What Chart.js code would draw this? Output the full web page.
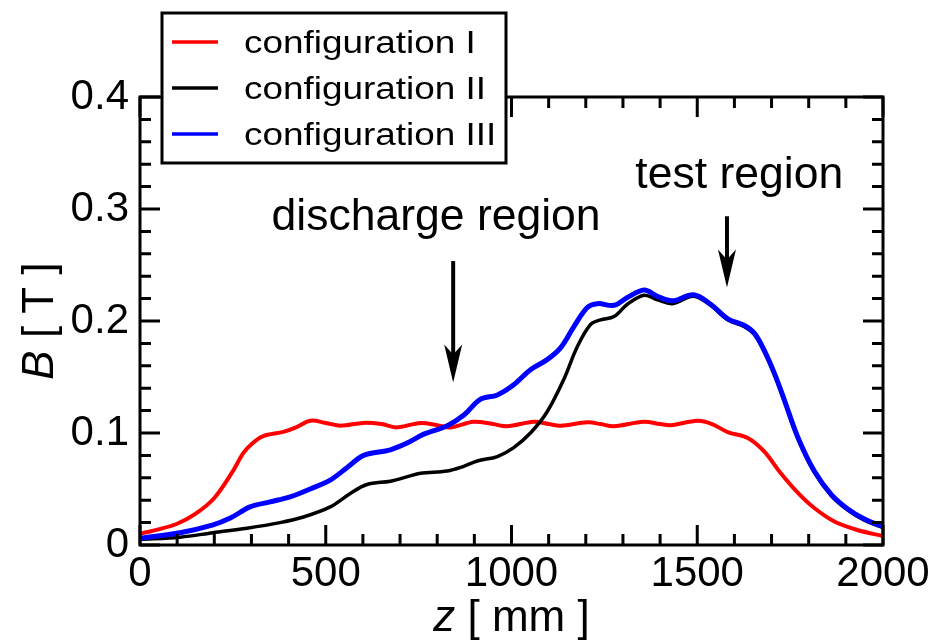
<!DOCTYPE html>
<html>
<head>
<meta charset="utf-8">
<script src="https://cdn.jsdelivr.net/npm/chart.js@4.4.0/dist/chart.umd.min.js"></script>
<style>
  html, body { margin: 0; padding: 0; background: #fff; }
  #wrap { width: 940px; height: 641px; }
</style>
</head>
<body>
<div id="wrap"><canvas id="c" width="940" height="641"></canvas></div>
<script>
// z positions [mm] and B [T]
const zConf1 = [0, 50, 100, 150, 200, 250, 278, 300, 330, 386, 420, 458, 500, 540, 600, 650, 690, 755, 800, 836, 898, 950, 988, 1060, 1100, 1132, 1205, 1240, 1275, 1356, 1400, 1429, 1501, 1540, 1582, 1636, 1680, 1725, 1771, 1815, 1869, 1931, 2000];
const bConf1 = [0.010, 0.014, 0.019, 0.028, 0.042, 0.066, 0.082, 0.090, 0.097, 0.101, 0.105, 0.111, 0.109, 0.1065, 0.109, 0.108, 0.105, 0.109, 0.107, 0.105, 0.110, 0.108, 0.106, 0.110, 0.108, 0.1065, 0.1095, 0.108, 0.106, 0.110, 0.108, 0.107, 0.111, 0.108, 0.1008, 0.0955, 0.0835, 0.064, 0.0465, 0.033, 0.021, 0.0134, 0.008];

const zConf2 = [0, 108, 197, 288, 377, 440, 512, 566, 611, 674, 720, 755, 827, 870, 908, 962, 1006, 1051, 1096, 1141, 1177, 1213, 1240, 1276, 1312, 1357, 1393, 1433, 1490, 1536, 1582, 1627, 1654, 1680, 1708, 1735, 1771, 1815, 1861, 1906, 1951, 2000];
const bConf2 = [0.005, 0.007, 0.011, 0.015, 0.020, 0.025, 0.034, 0.046, 0.054, 0.057, 0.061, 0.064, 0.066, 0.070, 0.075, 0.079, 0.087, 0.100, 0.119, 0.148, 0.177, 0.197, 0.201, 0.204, 0.215, 0.223, 0.219, 0.2155, 0.222, 0.214, 0.201, 0.195, 0.188, 0.173, 0.152, 0.128, 0.095, 0.065, 0.044, 0.031, 0.022, 0.0155];

const zConf3 = [0, 108, 197, 243, 296, 350, 404, 458, 512, 557, 602, 674, 719, 764, 827, 872, 916, 962, 1006, 1051, 1096, 1132, 1168, 1204, 1231, 1276, 1312, 1357, 1393, 1433, 1490, 1536, 1582, 1627, 1654, 1680, 1708, 1735, 1771, 1815, 1861, 1906, 1951, 2000];
const bConf3 = [0.006, 0.011, 0.018, 0.024, 0.034, 0.0385, 0.043, 0.050, 0.058, 0.069, 0.080, 0.085, 0.091, 0.099, 0.1065, 0.116, 0.130, 0.134, 0.143, 0.1565, 0.1655, 0.176, 0.195, 0.212, 0.2155, 0.214, 0.221, 0.2276, 0.222, 0.218, 0.2235, 0.215, 0.202, 0.196, 0.189, 0.174, 0.153, 0.129, 0.096, 0.066, 0.045, 0.032, 0.023, 0.0164];

const seriesLabels = ['configuration I', 'configuration II', 'configuration III'];
const seriesColors = ['#ff0000', '#000000', '#0000ff'];

const xTicksMajor = [0, 500, 1000, 1500, 2000];
const yTicksMajor = [0, 0.1, 0.2, 0.3, 0.4];

// arrows and texts placed in data coordinates
const notes = [
  { text: 'discharge region', z: 797, b: 0.281, arrowZ: 843, from: 0.2535, to: 0.145 },
  { text: 'test region', z: 1613, b: 0.3187, arrowZ: 1580, from: 0.2935, to: 0.230 }
];

function pts(zs, bs) {
  return zs.map((z, i) => ({ x: z, y: bs[i] }));
}

const FONT = '"Liberation Sans", Arial, Helvetica, sans-serif';

const framePlugin = {
  id: 'frame',
  afterDraw(chart) {
    const ctx = chart.ctx;
    const a = chart.chartArea;
    const xs = chart.scales.x, ys = chart.scales.y;
    ctx.save();
    ctx.strokeStyle = '#000';
    ctx.lineWidth = 3;
    ctx.lineCap = 'butt';
    ctx.strokeRect(a.left, a.top, a.right - a.left, a.bottom - a.top);

    // inward ticks on all four sides
    ctx.beginPath();
    for (let v = 0; v <= 2000; v += 100) {
      const px = xs.getPixelForValue(v);
      const len = v % 500 === 0 ? 20 : 11;
      ctx.moveTo(px, a.bottom); ctx.lineTo(px, a.bottom - len);
      ctx.moveTo(px, a.top); ctx.lineTo(px, a.top + len);
    }
    for (let k = 0; k <= 20; k++) {
      const py = ys.getPixelForValue(k * 0.02);
      const len = k % 5 === 0 ? 20 : 11;
      ctx.moveTo(a.left, py); ctx.lineTo(a.left + len, py);
      ctx.moveTo(a.right, py); ctx.lineTo(a.right - len, py);
    }
    ctx.stroke();

    // axis titles
    const TF = 44;
    ctx.fillStyle = '#000';
    ctx.textBaseline = 'alphabetic';
    ctx.font = 'italic ' + TF + 'px ' + FONT;
    const zW = ctx.measureText('z').width;
    ctx.font = TF + 'px ' + FONT;
    const restW = ctx.measureText(' [ mm ]').width;
    let sx = (a.left + a.right) / 2 - (zW + restW) / 2;
    ctx.font = 'italic ' + TF + 'px ' + FONT;
    ctx.fillText('z', sx, 631);
    ctx.font = TF + 'px ' + FONT;
    ctx.fillText(' [ mm ]', sx + zW, 631);

    ctx.save();
    ctx.translate(53, (a.top + a.bottom) / 2);
    ctx.rotate(-Math.PI / 2);
    ctx.font = 'italic ' + TF + 'px ' + FONT;
    const bW = ctx.measureText('B').width;
    ctx.font = TF + 'px ' + FONT;
    const tW = ctx.measureText(' [ T ]').width;
    sx = -(bW + tW) / 2;
    ctx.font = 'italic ' + TF + 'px ' + FONT;
    ctx.fillText('B', sx, 0);
    ctx.font = TF + 'px ' + FONT;
    ctx.fillText(' [ T ]', sx + bW, 0);
    ctx.restore();

    // annotations
    ctx.font = '44.5px ' + FONT;
    ctx.textAlign = 'center';
    notes.forEach(n => {
      ctx.fillText(n.text, xs.getPixelForValue(n.z), ys.getPixelForValue(n.b));
      const ax = xs.getPixelForValue(n.arrowZ);
      const y0 = ys.getPixelForValue(n.from), y1 = ys.getPixelForValue(n.to);
      ctx.lineWidth = 4;
      ctx.beginPath();
      ctx.moveTo(ax, y0); ctx.lineTo(ax, y1 - 20);
      ctx.stroke();
      ctx.beginPath();
      ctx.moveTo(ax, y1);
      ctx.lineTo(ax - 9, y1 - 38);
      ctx.lineTo(ax, y1 - 28);
      ctx.lineTo(ax + 9, y1 - 38);
      ctx.closePath();
      ctx.fill();
    });

    // legend box
    ctx.textAlign = 'left';
    ctx.fillStyle = '#fff';
    ctx.fillRect(162, 13, 344, 150);
    ctx.lineWidth = 3;
    ctx.strokeRect(162, 13, 344, 150);
    chart.data.datasets.forEach((ds, i) => {
      const ly = 42 + i * 46;
      ctx.strokeStyle = ds.borderColor;
      ctx.lineWidth = 3.5;
      ctx.beginPath();
      ctx.moveTo(172, ly); ctx.lineTo(218, ly);
      ctx.stroke();
      ctx.save();
      ctx.fillStyle = '#000';
      ctx.font = '31px ' + FONT;
      ctx.translate(244, ly + 10.5);
      ctx.scale(1.19, 1);
      ctx.fillText(ds.label, 0, 0);
      ctx.restore();
    });
    ctx.restore();
  }
};

new Chart(document.getElementById('c'), {
  type: 'line',
  data: {
    datasets: [
      { label: seriesLabels[0], data: pts(zConf1, bConf1), borderColor: seriesColors[0], borderWidth: 4, order: 2 },
      { label: seriesLabels[1], data: pts(zConf2, bConf2), borderColor: seriesColors[1], borderWidth: 3.5, order: 1 },
      { label: seriesLabels[2], data: pts(zConf3, bConf3), borderColor: seriesColors[2], borderWidth: 5, order: 0 }
    ]
  },
  options: {
    responsive: false,
    animation: false,
    parsing: false,
    layout: { padding: { left: 0, right: 57, top: 97, bottom: 0 } },
    elements: {
      point: { radius: 0 },
      line: { tension: 0.35, fill: false, borderJoinStyle: 'round', borderCapStyle: 'round' }
    },
    plugins: { legend: { display: false }, tooltip: { enabled: false } },
    scales: {
      x: {
        type: 'linear', min: 0, max: 2000,
        grid: { display: false, drawTicks: false },
        border: { display: false },
        afterBuildTicks: s => { s.ticks = xTicksMajor.map(v => ({ value: v })); },
        afterFit: s => { s.height = 96; },
        ticks: {
          color: '#000', padding: 4, maxRotation: 0, autoSkip: false,
          font: { family: FONT, size: 42 },
          callback: v => String(v)
        }
      },
      y: {
        type: 'linear', min: 0, max: 0.4,
        grid: { display: false, drawTicks: false },
        border: { display: false },
        afterBuildTicks: s => { s.ticks = yTicksMajor.map(v => ({ value: v })); },
        afterFit: s => { s.width = 140; },
        ticks: {
          color: '#000', padding: 11,
          font: { family: FONT, size: 42 },
          callback: v => (v === 0 ? '0' : v.toFixed(1))
        }
      }
    }
  },
  plugins: [framePlugin]
});
</script>
</body>
</html>
